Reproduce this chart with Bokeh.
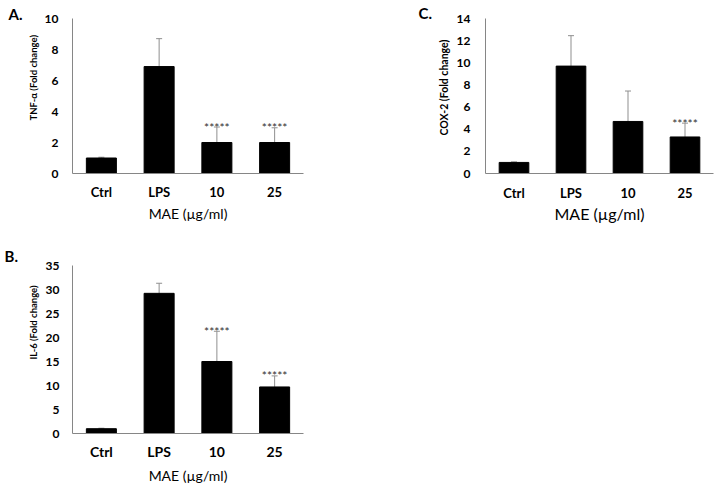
from bokeh.plotting import figure
from bokeh.models import ColumnDataSource, FactorRange, Range1d, Whisker, TeeHead, Title
from bokeh.layouts import gridplot
from bokeh.core.properties import value
from bokeh.embed import file_html
from bokeh.resources import INLINE

# ---------------- data ----------------
categories = ["Ctrl", "LPS", "10", "25"]

tnf_mean = [1.0, 6.9, 2.0, 2.0]
tnf_err = [0.05, 1.8, 1.0, 0.95]
tnf_stars = ["", "", "*****", "*****"]
tnf_ticks = [0, 2, 4, 6, 8, 10]

il6_mean = [1.0, 29.2, 15.0, 9.7]
il6_err = [0.1, 2.1, 6.3, 2.3]
il6_stars = ["", "", "*****", "*****"]
il6_ticks = [0, 5, 10, 15, 20, 25, 30, 35]

cox_mean = [1.0, 9.7, 4.7, 3.3]
cox_err = [0.05, 2.75, 2.75, 1.25]
cox_stars = ["", "", "", "*****"]
cox_ticks = [0, 2, 4, 6, 8, 10, 12, 14]

FONT = "Lato"
AXIS_COLOR = "#868686"
ERR_COLOR = "#8f8f8f"


def panel(means, errs, stars, ticks, ylabel, letter, width, height, borders,
          xtick_size, ytick_size, xlab_size, ylab_size, xtick_standoff,
          ytick_standoff, xlab_standoff, letter_offset, letter_standoff,
          ylab_offset, ylab_standoff):
    left, right, top, bottom = borders
    upper = [m + e for m, e in zip(means, errs)]
    src = ColumnDataSource(dict(x=categories, top=means, upper=upper, stars=stars))
    p = figure(x_range=FactorRange(factors=categories),
               y_range=Range1d(ticks[0], ticks[-1]),
               width=width, height=height,
               min_border_left=left, min_border_right=right,
               min_border_top=top, min_border_bottom=bottom,
               output_backend="svg", toolbar_location=None, tools="")
    p.outline_line_color = None
    p.xgrid.visible = False
    p.ygrid.visible = False
    p.background_fill_color = "white"
    p.border_fill_color = "white"

    # panel letter as the plot title
    p.title.text = letter
    p.title.align = "left"
    p.title.offset = letter_offset
    p.title.standoff = letter_standoff
    p.title.text_font = FONT
    p.title.text_font_style = "bold"
    p.title.text_font_size = "15px"
    p.title.text_color = "black"

    p.vbar(x="x", top="top", width=0.52, source=src,
           fill_color="black", line_color="black")
    p.add_layout(Whisker(source=src, base="x", lower="top", upper="upper",
                         line_color=ERR_COLOR, line_width=1,
                         upper_head=TeeHead(size=6, line_color=ERR_COLOR, line_width=1),
                         lower_head=None))
    p.text(x="x", y="upper", text="stars", source=src,
           text_font=value(FONT), text_font_size="12px", text_align="center",
           text_baseline="alphabetic", text_color="#303030", y_offset=0)

    xa = p.xaxis[0]
    xa.axis_line_color = AXIS_COLOR
    xa.major_tick_out = 0
    xa.major_tick_in = 0
    xa.major_label_text_font = FONT
    xa.major_label_text_font_style = "bold"
    xa.major_label_text_font_size = xtick_size
    xa.major_label_text_color = "black"
    xa.major_label_standoff = xtick_standoff
    xa.axis_label = "MAE (µg/ml)"
    xa.axis_label_text_font = FONT
    xa.axis_label_text_font_style = "normal"
    xa.axis_label_text_font_size = xlab_size
    xa.axis_label_text_color = "black"
    xa.axis_label_standoff = xlab_standoff

    ya = p.yaxis[0]
    ya.ticker = ticks
    ya.axis_line_color = AXIS_COLOR
    ya.major_tick_out = 0
    ya.major_tick_in = 0
    ya.minor_tick_out = 0
    ya.minor_tick_in = 0
    ya.major_label_text_font = FONT
    ya.major_label_text_font_style = "bold"
    ya.major_label_text_font_size = ytick_size
    ya.major_label_text_color = "black"
    ya.major_label_standoff = ytick_standoff

    # y axis title, placed as a left-side title: it starts ylab_offset px
    # above the bottom of the plot area and reads upwards
    p.add_layout(Title(text=ylabel, align="left", offset=ylab_offset,
                       standoff=ylab_standoff, text_font=FONT, text_font_style="bold",
                       text_font_size=ylab_size, text_color="black"), "left")
    return p


pa = panel(tnf_mean, tnf_err, tnf_stars, tnf_ticks, "TNF-α (Fold change)", "A.",
           360, 240, (72, 57, 15, 65), "13px", "12px", "14px", "9.5px",
           10, 14, 2, -64, -8, 53, 5)
pc = panel(cox_mean, cox_err, cox_stars, cox_ticks, "COX-2 (Fold change)", "C.",
           359, 240, (125, 6, 18, 67), "13px", "12px", "16px", "10.5px",
           11, 15, 0, -67, -7, 38, 8)
pb = panel(il6_mean, il6_err, il6_stars, il6_ticks, "IL-6 (Fold change)", "B.",
           360, 246, (71, 57, 25, 51), "14px", "12px", "14px", "9.5px",
           9, 13, 4, -68, 2, 74, 8)

grid = gridplot([[pa, pc], [pb, None]], toolbar_location=None)

open("out.html", "w").write(file_html(grid, INLINE))
